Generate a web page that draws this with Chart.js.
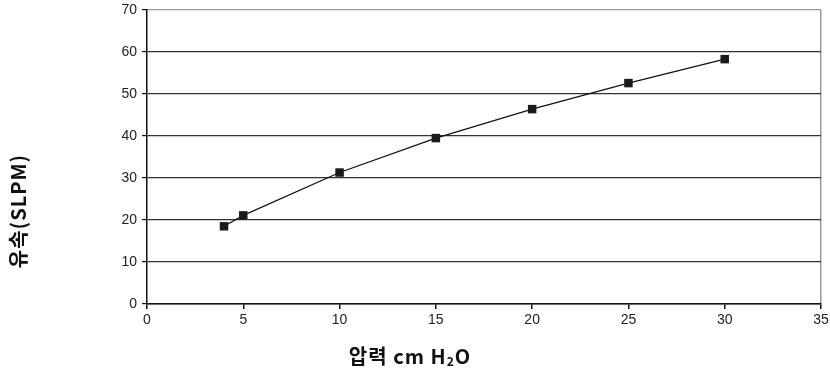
<!DOCTYPE html>
<html>
<head>
<meta charset="utf-8">
<script src="https://cdn.jsdelivr.net/npm/chart.js@4"></script>
<style>
  html, body { margin: 0; padding: 0; background: #fff; }
  #wrap { width: 830px; height: 371px; }
</style>
</head>
<body>
<div id="wrap"><canvas id="flowChart"></canvas></div>
<script>
// pressure (cm H2O) vs flow (SLPM)
const pressure = [4, 5, 10, 15, 20, 25, 30];
const flow = [18.5, 21.1, 31.3, 39.5, 46.4, 52.6, 58.3];
const xTicks = [0, 5, 10, 15, 20, 25, 30, 35];
const yTicks = [0, 10, 20, 30, 40, 50, 60, 70];

const titleFont = "bold 20px 'Noto Sans CJK KR', sans-serif";
const subFont = "bold 12px 'Noto Sans CJK KR', sans-serif";

// axis titles are drawn by hand, they sit off-center in the original
const axisTitles = {
  id: "axisTitles",
  afterDraw(chart) {
    const ctx = chart.ctx;
    ctx.save();
    ctx.fillStyle = "#111";
    ctx.textBaseline = "middle";
    ctx.letterSpacing = "1px";

    // y title
    ctx.save();
    ctx.font = titleFont;
    ctx.translate(18, 211);
    ctx.rotate(-Math.PI / 2);
    ctx.textAlign = "center";
    ctx.fillText("유속(SLPM)", 0, 0);
    ctx.restore();

    // x title with subscript 2
    const y = 356;
    const a = "압력 cm H", b = "2", c = "O";
    ctx.font = titleFont;
    const wa = ctx.measureText(a).width;
    const wc = ctx.measureText(c).width;
    ctx.font = subFont;
    const wb = ctx.measureText(b).width;
    let x = 410 - (wa + wb + wc) / 2;
    ctx.textAlign = "left";
    ctx.font = titleFont;
    ctx.fillText(a, x, y);
    x += wa;
    ctx.font = subFont;
    ctx.fillText(b, x, y + 5);
    x += wb;
    ctx.font = titleFont;
    ctx.fillText(c, x, y);
    ctx.restore();
  }
};

const ctx = document.getElementById("flowChart").getContext("2d");
new Chart(ctx, {
  type: "line",
  data: {
    datasets: [{
      data: pressure.map((p, i) => ({ x: p, y: flow[i] })),
      borderColor: "#111",
      borderWidth: 1.2,
      pointStyle: "rect",
      pointRadius: 6,
      pointBackgroundColor: "#1a1a1a",
      pointBorderColor: "#1a1a1a",
      pointBorderWidth: 0,
      tension: 0,
      fill: false
    }]
  },
  options: {
    responsive: true,
    maintainAspectRatio: false,
    animation: false,
    layout: { padding: { left: 0, top: 10, right: 9, bottom: 0 } },
    plugins: {
      legend: { display: false },
      tooltip: { enabled: false }
    },
    scales: {
      x: {
        type: "linear",
        min: 0,
        max: 35,
        afterBuildTicks: (axis) => { axis.ticks = xTicks.map(v => ({ value: v })); },
        afterFit: (axis) => {
          axis.height = 67;
          axis.paddingLeft = 0;
          axis.paddingRight = 0;
        },
        border: { color: "#111", width: 1.5 },
        grid: {
          drawOnChartArea: true,
          color: (c) => (c.tick && c.tick.value === 35 ? "#999" : "rgba(0,0,0,0)"),
          tickColor: "#111",
          tickLength: 5,
          lineWidth: 1.5
        },
        ticks: {
          color: "#222",
          font: { family: "'Liberation Sans', Arial, sans-serif", size: 14 },
          padding: 3,
          maxRotation: 0
        }
      },
      y: {
        min: 0,
        max: 70,
        afterBuildTicks: (axis) => { axis.ticks = yTicks.map(v => ({ value: v })); },
        afterFit: (axis) => {
          axis.width = 147;
          axis.paddingTop = 0;
          axis.paddingBottom = 0;
        },
        border: { color: "#111", width: 1.5 },
        grid: {
          color: (c) => (c.tick && c.tick.value === 70 ? "#999" : "#333"),
          tickColor: "#111",
          tickLength: 5,
          lineWidth: 1.2
        },
        ticks: {
          color: "#222",
          font: { family: "'Liberation Sans', Arial, sans-serif", size: 14 },
          padding: 5
        }
      }
    }
  },
  plugins: [axisTitles]
});
</script>
</body>
</html>
